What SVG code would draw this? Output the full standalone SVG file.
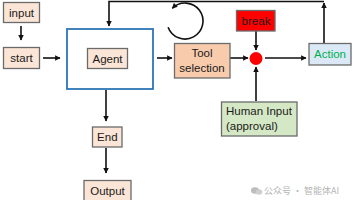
<svg xmlns="http://www.w3.org/2000/svg" width="356" height="200" viewBox="0 0 356 200">
<style>
.box{stroke:#6b6b6b;stroke-width:1.3}
.peach{fill:#fbe5d6}
.t{font-family:"Liberation Sans",Arial,sans-serif;font-size:11.5px;fill:#1a1a1a}
.c{stroke:#111;stroke-width:1.6;fill:none}
</style>
<defs>
<marker id="ah" viewBox="0 0 10 10" refX="9" refY="5" markerWidth="3.6" markerHeight="3.4" orient="auto" markerUnits="strokeWidth">
<path d="M0,0 L10,5 L0,10 z" fill="#111"/>
</marker>
</defs>
<rect width="356" height="200" fill="#ffffff"/>
<g id="connectors">
<path class="c" d="M21,26 V40" marker-end="url(#ah)"/>
<path class="c" d="M43,58 H60" marker-end="url(#ah)"/>
<path class="c" d="M324,43 V3" marker-end="url(#ah)"/>
<path class="c" d="M324,1.5 H109 V26" marker-end="url(#ah)"/>
<path class="c" d="M168.1,27.2 A18,18 0 1 0 172.3,8.3" marker-end="url(#ah)"/>
<path class="c" d="M157,58 H172" marker-end="url(#ah)"/>
<path class="c" d="M230,58 H248" marker-end="url(#ah)"/>
<path class="c" d="M256,31 V50" marker-end="url(#ah)"/>
<path class="c" d="M265,58 H306" marker-end="url(#ah)"/>
<path class="c" d="M256,101 V67" marker-end="url(#ah)"/>
<path class="c" d="M106,90 V121" marker-end="url(#ah)"/>
<path class="c" d="M106,148 V173" marker-end="url(#ah)"/>
</g>
<g id="input">
<rect class="box peach" x="3.5" y="2.5" width="36" height="20"/>
<text class="t" x="21.5" y="16.5" text-anchor="middle">input</text>
</g>
<g id="start">
<rect class="box peach" x="3.5" y="47.5" width="36" height="21"/>
<text class="t" x="21.5" y="62" text-anchor="middle">start</text>
</g>
<g id="agent-frame">
<rect x="67" y="29" width="86" height="60" fill="#ffffff" stroke="#2e75b6" stroke-width="1.8"/>
</g>
<g id="agent">
<rect class="box peach" x="87.5" y="48.5" width="40" height="20"/>
<text class="t" x="107.5" y="62.5" text-anchor="middle">Agent</text>
</g>
<g id="tool-selection">
<rect class="box" x="174.5" y="43.5" width="55.5" height="34.5" fill="#f8cbad"/>
<text class="t" x="202" y="57" text-anchor="middle">Tool</text>
<text class="t" x="202" y="72" text-anchor="middle">selection</text>
</g>
<g id="break">
<rect class="box" x="236.5" y="10.5" width="38.5" height="20.5" fill="#ff0000"/>
<text class="t" x="256" y="24.5" text-anchor="middle">break</text>
</g>
<g id="junction">
<circle cx="256" cy="58.5" r="6.5" fill="#ff0000"/>
</g>
<g id="action">
<rect class="box" x="309" y="43.5" width="42" height="21.5" fill="#dbe9f6"/>
<text class="t" x="330" y="58" text-anchor="middle" style="fill:#00b050">Action</text>
</g>
<g id="human-input">
<rect class="box" x="221.5" y="102" width="75.5" height="34" fill="#d5e8c5"/>
<text class="t" x="226" y="115">Human Input</text>
<text class="t" x="226" y="130">(approval)</text>
</g>
<g id="end">
<rect class="box peach" x="92.5" y="127" width="29.5" height="20"/>
<text class="t" x="107.3" y="141" text-anchor="middle">End</text>
</g>
<g id="output">
<rect class="box peach" x="84" y="180.5" width="47" height="22"/>
<text class="t" x="107.5" y="194.5" text-anchor="middle">Output</text>
</g>
<g id="watermark">
<text x="264" y="194" font-family="'Noto Sans CJK SC',sans-serif" font-size="9" fill="#b5b5b5">公众号 · 智能体AI</text>
<ellipse cx="255" cy="190.5" rx="4" ry="3.3" fill="#bdbdbd"/>
<ellipse cx="259" cy="192" rx="3.3" ry="2.7" fill="#cfcfcf"/>
</g>
</svg>
